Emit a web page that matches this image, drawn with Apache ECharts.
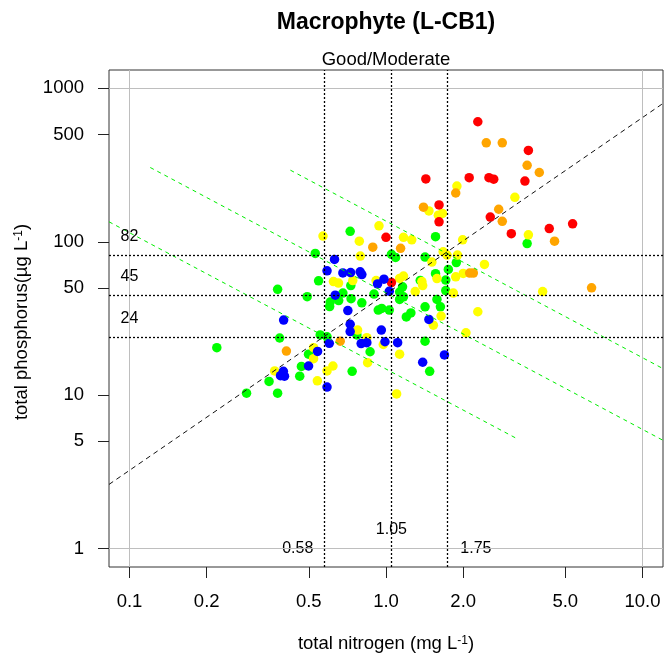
<!DOCTYPE html>
<html>
<head>
<meta charset="utf-8">
<script src="https://cdn.jsdelivr.net/npm/echarts@6/dist/echarts.min.js"></script>
<style>
  html, body { margin: 0; padding: 0; background: #fff; }
  #chart { width: 665px; height: 656px; }
</style>
</head>
<body>
<div id="chart"></div>
<script>
// Total nitrogen (mg/L) and total phosphorus (µg/L) per site, grouped by class colour
const redN = [2.28, 3.59, 1.43, 2.11, 2.52, 2.63, 3.48, 1.61, 1.61, 2.55, 3.08, 4.33, 5.34, 1.00, 1.05];
const redP = [606, 394, 257, 262, 262, 256, 249, 174, 135, 145, 113, 122, 131, 107, 54.2];

const orangeN = [2.46, 2.84, 3.55, 3.96, 1.87, 1.40, 2.75, 2.84, 4.54, 0.888, 1.14, 2.12, 2.19, 6.33, 0.663, 0.409];
const orangeP = [442, 442, 315, 283, 208, 168, 163, 136, 101, 92.3, 90.6, 62.5, 62.5, 50.1, 22.5, 19.4];

const yellowN = [1.89, 3.18, 1.47, 1.60, 1.66, 0.939, 0.787, 1.17, 1.26, 1.99, 3.59, 0.568, 0.794, 1.67, 1.73, 1.90,
  1.51, 2.42, 1.87, 2.00, 1.58, 1.38, 1.39, 1.13, 1.17, 1.30, 1.83, 4.08, 0.915, 0.742, 0.624, 0.653,
  2.28, 2.05, 1.64, 1.53, 1.13, 1.10, 0.848, 0.775, 0.842, 0.976, 0.522, 0.522, 0.368, 0.621, 0.589, 0.540];
const yellowP = [231, 195, 159, 149, 153, 127, 101, 107, 103, 103, 111, 109, 80.7, 86.1, 81.9, 81.9,
  73.8, 71.2, 59.1, 62.2, 57.6, 55.0, 51.8, 57.7, 59.8, 47.4, 46.3, 47.4, 55.9, 55.9, 55.0, 53.8,
  35.0, 25.5, 32.8, 28.6, 18.5, 10.2, 16.3, 26.6, 23.7, 21.4, 20.4, 17.3, 14.4, 15.5, 14.4, 12.4];

const greenN = [3.55, 1.56, 1.05, 1.09, 1.42, 1.88, 1.75, 1.56, 1.71, 1.36, 1.71, 1.16, 1.13, 0.725, 0.530, 0.546,
  0.729, 0.378, 0.493, 0.679, 0.606, 0.603, 0.654, 0.731, 0.805, 0.898, 0.933, 0.962, 1.03, 1.13, 1.17, 1.20,
  1.25, 1.42, 1.58, 1.63, 1.42, 1.48, 0.867, 0.770, 0.738, 0.554, 0.589, 0.385, 0.219, 0.499, 0.468, 0.461,
  0.350, 0.286, 0.378];
const greenP = [97.3, 108, 82.8, 79.1, 79.5, 73.2, 66.1, 62.0, 56.3, 56.0, 48.1, 50.9, 47.0, 117, 84.0, 55.7,
  51.8, 49.0, 43.9, 46.3, 40.5, 37.8, 41.4, 42.6, 40.0, 45.6, 35.9, 36.8, 35.9, 42.1, 43.8, 32.4,
  34.4, 37.7, 42.1, 37.7, 22.5, 14.3, 19.2, 24.7, 14.3, 24.7, 24.0, 23.6, 20.4, 18.5, 15.4, 13.3,
  12.3, 10.3, 10.3];

const blueN = [0.630, 0.589, 0.679, 0.728, 0.793, 0.805, 0.982, 0.927, 1.03, 0.634, 0.710, 0.399, 0.725, 0.725,
  0.959, 0.601, 0.800, 0.842, 0.991, 1.11, 1.47, 1.69, 1.39, 0.541, 0.499, 0.388, 0.398, 0.402, 0.589];
const blueP = [76.8, 64.7, 62.7, 63.0, 63.7, 61.1, 57.1, 53.1, 47.6, 44.9, 35.6, 30.9, 29.0, 26.0,
  26.6, 21.8, 21.7, 22.0, 22.3, 22.0, 31.2, 18.3, 16.4, 19.3, 15.5, 13.4, 14.3, 13.3, 11.3];

// Good/Moderate boundary values
const tnBounds = [0.58, 1.05, 1.75];
const tpBounds = [82, 45, 24];

// Fitted TP ~ TN line (end points)
const fitN = [0.0832, 12.02];
const fitP = [2.62, 798];

// Iso-lines (end points)
const iso1N = [0.0832, 3.26];
const iso1P = [135, 5.18];
const iso2N = [0.1205, 12.02];
const iso2P = [305, 5.08];
const iso3N = [0.424, 12.02];
const iso3P = [293, 14.9];

// Axis ticks and limits
const xTicks = [0.1, 0.2, 0.5, 1, 2, 5, 10];
const yTicks = [1, 5, 10, 50, 100, 500, 1000];
const xLim = [0.0832, 12.02];
const yLim = [0.7586, 1318];
const xRefLines = [0.1, 10];
const yRefLines = [1, 1000];

const FONT = "'Liberation Sans', Arial, Helvetica, sans-serif";
const lg = Math.log10;
const pts = (n, p) => n.map((v, i) => [lg(v), lg(p[i])]);

const chart = echarts.init(document.getElementById('chart'), null, { renderer: 'canvas' });

const groups = [
  { name: 'green', color: '#00FF00', n: greenN, p: greenP },
  { name: 'yellow', color: '#FFFF00', n: yellowN, p: yellowP },
  { name: 'orange', color: '#FFA500', n: orangeN, p: orangeP },
  { name: 'red', color: '#FF0000', n: redN, p: redP },
  { name: 'blue', color: '#0000FF', n: blueN, p: blueP }
];

const pointSeries = groups.map(g => ({
  type: 'scatter',
  name: g.name,
  data: pts(g.n, g.p),
  symbol: 'circle',
  symbolSize: 9.5,
  itemStyle: { color: g.color, opacity: 1 },
  silent: true,
  animation: false
}));

const segment = (n, p, color, dash) => ({
  type: 'line',
  data: pts(n, p),
  symbol: 'none',
  silent: true,
  animation: false,
  lineStyle: { color: color, width: 1, type: dash },
  z: 3
});

const dotted = { color: '#000', width: 1.3, type: [2, 2] };

const tpLabelData = tpBounds.map(v => ({
  value: [lg(0.1), lg(v)], name: String(v),
  label: { position: 'inside', offset: [0, -18] }
}));
const tnLabelData = tnBounds.map((v, i) => ({
  value: [lg(v), lg(1)], name: v.toFixed(2),
  label: i === 0 ? { position: 'left', distance: 12 }
       : i === 1 ? { position: 'inside', offset: [0, -19] }
       : { position: 'right', distance: 12 }
}));

const option = {
  backgroundColor: '#fff',
  animation: false,
  textStyle: { fontFamily: FONT },
  grid: {
    left: 109, right: 2, top: 70, bottom: 89,
    show: true, borderColor: '#333', borderWidth: 1, backgroundColor: 'transparent',
    containLabel: false, outerBoundsMode: 'none'
  },
  xAxis: {
    type: 'value', min: lg(xLim[0]), max: lg(xLim[1]),
    axisLine: { show: false, onZero: false },
    splitLine: { show: false },
    axisTick: { show: true, customValues: xTicks.map(lg), length: 11, inside: false,
      lineStyle: { color: '#222', width: 1 } },
    axisLabel: { show: true, customValues: xTicks.map(lg), margin: 25,
      formatter: v => Math.pow(10, v).toFixed(1),
      fontSize: 18.5, color: '#000', fontFamily: FONT }
  },
  yAxis: {
    type: 'value', min: lg(yLim[0]), max: lg(yLim[1]),
    axisLine: { show: false, onZero: false },
    splitLine: { show: false },
    axisTick: { show: true, customValues: yTicks.map(lg), length: 11, inside: false,
      lineStyle: { color: '#222', width: 1 } },
    axisLabel: { show: true, customValues: yTicks.map(lg), margin: 25,
      formatter: v => String(Math.round(Math.pow(10, v))),
      fontSize: 18.5, color: '#000', fontFamily: FONT }
  },
  series: [
    {
      type: 'line', data: [], symbol: 'none', silent: true, animation: false, z: 1,
      markLine: {
        silent: true, symbol: ['none', 'none'], animation: false,
        label: { show: false },
        lineStyle: { color: '#BEBEBE', width: 1, type: 'solid' },
        emphasis: { disabled: true },
        data: xRefLines.map(v => ({ xAxis: lg(v) })).concat(yRefLines.map(v => ({ yAxis: lg(v) })))
      }
    },
    ...pointSeries,
    {
      type: 'line', data: [], symbol: 'none', silent: true, animation: false, z: 3,
      markLine: {
        silent: true, symbol: ['none', 'none'], animation: false,
        label: { show: false },
        lineStyle: dotted,
        emphasis: { disabled: true },
        data: tnBounds.map(v => ({ xAxis: lg(v) })).concat(tpBounds.map(v => ({ yAxis: lg(v) })))
      }
    },
    segment(iso1N, iso1P, '#00EE00', [4, 4]),
    segment(iso2N, iso2P, '#00EE00', [4, 4]),
    segment(iso3N, iso3P, '#00EE00', [4, 4]),
    segment(fitN, fitP, '#111', [5, 4]),
    {
      type: 'scatter', silent: true, animation: false, z: 4,
      symbol: 'circle', symbolSize: 0, itemStyle: { color: '#000', opacity: 1 },
      label: { show: true, formatter: p => p.name, fontSize: 16, color: '#000', opacity: 1,
        textBorderWidth: 0, fontFamily: FONT },
      data: tpLabelData.concat(tnLabelData)
    }
  ],
  graphic: [
    { type: 'text', x: 386, y: 23, silent: true,
      style: { text: 'Macrophyte (L-CB1)', font: 'bold 23px ' + FONT, fill: '#000',
        align: 'center', verticalAlign: 'middle' } },
    { type: 'text', x: 386, y: 60, silent: true,
      style: { text: 'Good/Moderate', font: '18.5px ' + FONT, fill: '#000',
        align: 'center', verticalAlign: 'middle' } },
    { type: 'text', x: 386, y: 644, silent: true,
      style: { text: 'total nitrogen (mg L{sup|-1})', font: '18.5px ' + FONT, fill: '#000',
        align: 'center', verticalAlign: 'middle',
        rich: { sup: { fontSize: 12, fontFamily: FONT, verticalAlign: 'top', padding: [0, 0, 6, 0] } } } },
    { type: 'text', x: 22, y: 322, rotation: Math.PI / 2, silent: true,
      style: { text: 'total phosphorus(µg L{sup|-1})', font: '18.5px ' + FONT, fill: '#000',
        align: 'center', verticalAlign: 'middle',
        rich: { sup: { fontSize: 12, fontFamily: FONT, verticalAlign: 'top', padding: [0, 0, 6, 0] } } } }
  ]
};

chart.setOption(option);
</script>
</body>
</html>
